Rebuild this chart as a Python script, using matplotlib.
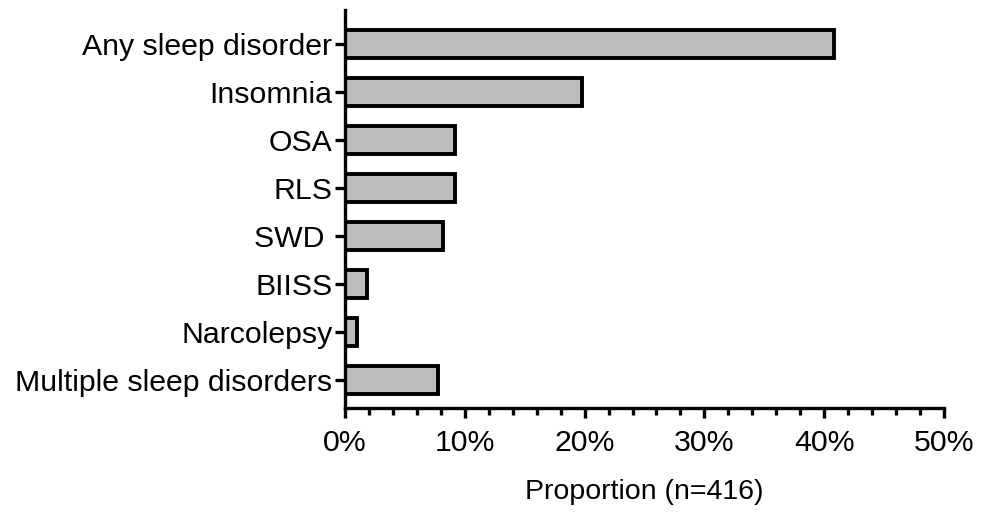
import matplotlib.pyplot as plt
from matplotlib.ticker import MultipleLocator, PercentFormatter

plt.rcParams['font.family'] = ['Liberation Sans', 'DejaVu Sans']

# Prevalence of sleep disorders (percent of respondents)
disorders = ['Any sleep disorder', 'Insomnia', 'OSA', 'RLS', 'SWD ',
             'BIISS', 'Narcolepsy', 'Multiple sleep disorders']
proportion = [40.8, 19.8, 9.2, 9.2, 8.2, 1.8, 1.0, 7.8]

fig = plt.figure(figsize=(9.82, 5.12), dpi=100)
ax = fig.add_axes([0.3513, 0.2031, 0.61, 0.7774])

ax.barh(range(len(disorders)), proportion, height=0.58,
        color='#bdbdbd', edgecolor='black', linewidth=2.8)

ax.set_yticks(range(len(disorders)))
ax.set_yticklabels(disorders)
ax.set_ylim(7.58, -0.71)

ax.set_xlim(0, 50)
ax.xaxis.set_major_locator(MultipleLocator(10))
ax.xaxis.set_minor_locator(MultipleLocator(2))
ax.xaxis.set_major_formatter(PercentFormatter(decimals=0))
ax.set_xlabel('Proportion (n=416)', fontsize=20.5, labelpad=16)

for side in ['top', 'right']:
    ax.spines[side].set_visible(False)
for side in ['left', 'bottom']:
    ax.spines[side].set_linewidth(2.4)

ax.tick_params(axis='both', which='major', length=7, width=2.4, labelsize=21.8)
ax.tick_params(axis='x', which='minor', length=5, width=2.4)
ax.tick_params(axis='x', pad=8)
ax.tick_params(axis='y', pad=2)

fig.savefig('out.png', dpi=100)
